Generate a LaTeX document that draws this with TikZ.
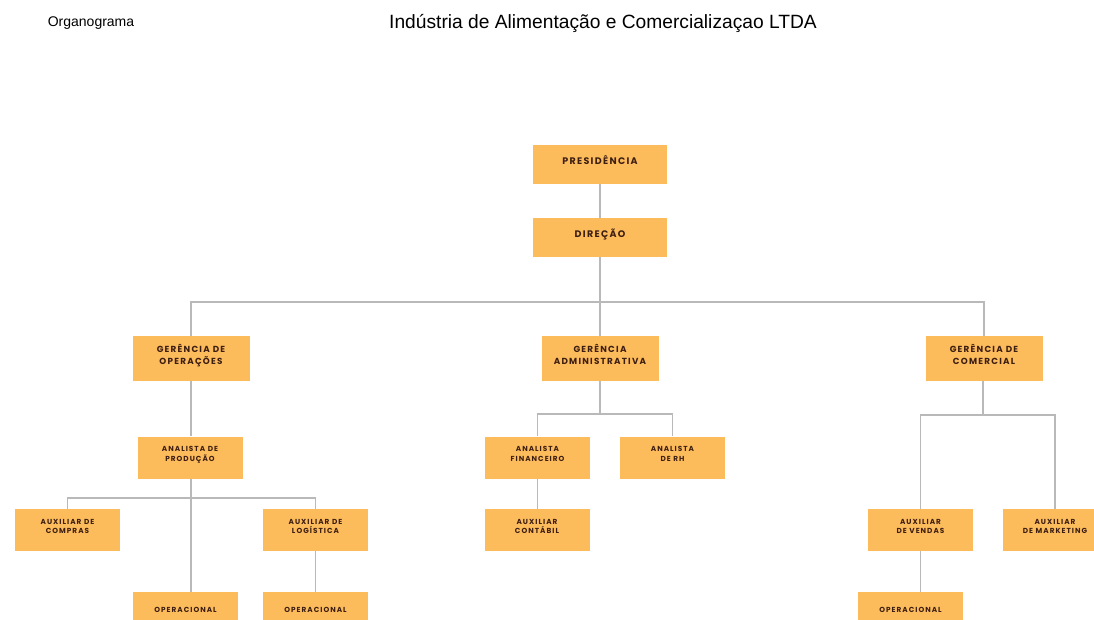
\documentclass[tikz,border=0pt]{standalone}
\usepackage{fontspec}
\setmainfont{Liberation Sans}
\newfontfamily\boxfont[LetterSpace=14]{Poppins}
\definecolor{boxfill}{RGB}{252,188,92}
\definecolor{boxtext}{RGB}{61,30,18}
\definecolor{linkgray}{RGB}{185,185,185}
\begin{document}
\begin{tikzpicture}
  [x=1pt, y=-1pt]
  \tikzstyle{box} = [fill=boxfill, text=boxtext, inner sep=0pt, align=center, font=\boxfont\bfseries];
  \tikzstyle{top_box}  = [box, minimum width=134pt, minimum height=39pt, text depth=8pt, font=\boxfont\bfseries\fontsize{9.5}{12}\selectfont];
  \tikzstyle{mgr_box}  = [box, minimum width=117pt, minimum height=45pt, text depth=8pt, font=\boxfont\bfseries\fontsize{8.8}{12}\selectfont];
  \tikzstyle{low_box}  = [box, minimum width=105pt, minimum height=42pt, text depth=7pt, font=\boxfont\bfseries\fontsize{7.3}{9.8}\selectfont];
  \tikzstyle{link} = [draw=linkgray, line width=1.5pt];

  \clip (0, 0) rectangle (1094, 619);
  \useasboundingbox (0, 0) rectangle (1094, 619);

  \node[font=\fontsize{14}{16}\selectfont] (org) at (91, 23) {Organograma};
  \node[font=\fontsize{19.2}{22}\selectfont] (title) at (603, 23) {Indústria de Alimentação e Comercializaçao LTDA};

  \node[top_box] (pres) at (600, 164.5) {PRESIDÊNCIA};
  \node[top_box] (dir)  at (600, 237.5) {DIREÇÃO};

  \node[mgr_box] (gop)  at (191, 358.5) {GERÊNCIA DE\\OPERAÇÕES};
  \node[mgr_box] (gadm) at (600, 358.5) {GERÊNCIA\\ADMINISTRATIVA};
  \node[mgr_box] (gcom) at (984, 358.5) {GERÊNCIA DE\\COMERCIAL};

  \node[low_box] (aprod) at (190, 457.5) {ANALISTA DE\\PRODUÇÃO};
  \node[low_box] (afin)  at (537.5, 457.5) {ANALISTA\\FINANCEIRO};
  \node[low_box] (arh)   at (672.5, 457.5) {ANALISTA\\DE RH};

  \node[low_box] (acomp) at (67.5, 530) {AUXILIAR DE\\COMPRAS};
  \node[low_box] (alog)  at (315.5, 530) {AUXILIAR DE\\LOGÍSTICA};
  \node[low_box] (acont) at (537, 530) {AUXILIAR\\CONTÁBIL};
  \node[low_box] (avend) at (920.5, 530) {AUXILIAR\\DE VENDAS};
  \node[low_box] (amkt)  at (1055, 530) {AUXILIAR\\DE MARKETING};

  \node[low_box] (oper1) at (185.5, 613) {OPERACIONAL};
  \node[low_box] (oper2) at (315.5, 613) {OPERACIONAL};
  \node[low_box] (oper3) at (910.5, 613) {OPERACIONAL};

  \coordinate (bus1) at (600, 302);
  \coordinate (bus2) at (191, 498);
  \coordinate (bus3) at (600, 414);
  \coordinate (bus4) at (983, 415);

  \draw[link] (pres.south) -- (dir.north);
  \draw[link] (dir.south) -- (bus1);
  \draw[link] (gop.north) |- (bus1) -| (gcom.north);
  \draw[link] (bus1) -- (gadm.north);

  \draw[link] (gop.south) -- (gop.south |- aprod.north);
  \draw[link] (aprod.south -| bus2) -- (bus2 |- oper1.north);
  \draw[link] (acomp.north) |- (bus2) -| (alog.north);
  \draw[link] (alog.south) -- (oper2.north);

  \draw[link] (gadm.south) -- (bus3);
  \draw[link] (afin.north) |- (bus3) -| (arh.north);
  \draw[link] (afin.south) -- (afin.south |- acont.north);

  \draw[link] (gcom.south -| bus4) -- (bus4);
  \draw[link] (avend.north) |- (bus4) -| (amkt.north);
  \draw[link] (avend.south) -- (avend.south |- oper3.north);
\end{tikzpicture}
\end{document}
